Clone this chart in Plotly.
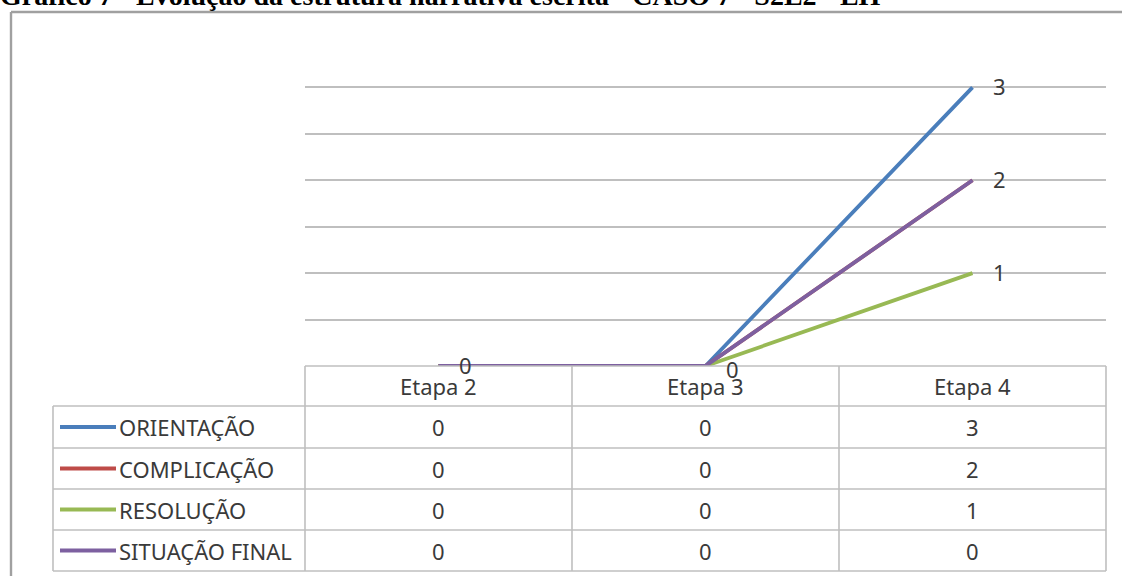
import plotly.graph_objects as go

# Categories and series values
etapas = ["Etapa 2", "Etapa 3", "Etapa 4"]
series_names = ["ORIENTAÇÃO", "COMPLICAÇÃO", "RESOLUÇÃO", "SITUAÇÃO FINAL"]
orientacao = [0, 0, 3]
complicacao = [0, 0, 2]
resolucao = [0, 0, 1]
situacao_final = [0, 0, 0]
table_values = [orientacao, complicacao, resolucao, situacao_final]

# Values traced by the plotted lines (the line reaching 2 is drawn in purple)
line_orientacao = [0, 0, 3]
line_complicacao = [0, 0, 2]
line_resolucao = [0, 0, 1]
line_situacao = [0, 0, 2]
plotted = [line_orientacao, line_complicacao, line_resolucao, line_situacao]

colors = ["#4a7ebb", "#be4b48", "#98b954", "#7d60a0"]
title_text = "Gráfico 7 - Evolução da estrutura narrativa escrita - CASO 7 - S2E2 - EH"

W, H = 1122, 576
L, R, T, B = 305, 1106, 41, 366  # plot area in pixels
GRID = "#bfbfbf"
TXT = "#3a3a3a"
FONT = "Noto Sans"
FS = 22


def px(x):
    return (x - L) / (R - L)


def py(y):
    return (B - y) / (B - T)


fig = go.Figure()
for name, vals, col in zip(series_names, plotted, colors):
    fig.add_trace(go.Scatter(x=[0, 1, 2], y=vals, mode="lines", name=name,
                             line=dict(color=col, width=3.8), showlegend=False))

annotations = []
# data labels
label_points = [(0, 0, 0), (1, 0, 4), (2, line_orientacao[2], 0),
                (2, line_situacao[2], 0), (2, line_resolucao[2], 0)]
for xi, yi, dy in label_points:
    annotations.append(dict(x=xi, y=yi, xref="x", yref="y", text=str(yi), showarrow=False,
                            xanchor="center", yanchor="middle", xshift=27, yshift=1 - dy,
                            font=dict(family=FONT, size=FS, color=TXT)))

shapes = []
line_style = dict(color=GRID, width=1.6)
# table rows
row_edges = [366, 406, 448, 489, 530, 571]
col_edges = [305, 572, 839, 1106]
table_left = 53
shapes.append(dict(type="line", xref="paper", yref="paper", x0=px(L), x1=px(R),
                   y0=py(366), y1=py(366), line=line_style))
for y in row_edges[1:]:
    shapes.append(dict(type="line", xref="paper", yref="paper", x0=px(table_left), x1=px(R),
                       y0=py(y), y1=py(y), line=line_style))
shapes.append(dict(type="line", xref="paper", yref="paper", x0=px(table_left), x1=px(table_left),
                   y0=py(406), y1=py(571), line=line_style))
for x in col_edges:
    shapes.append(dict(type="line", xref="paper", yref="paper", x0=px(x), x1=px(x),
                       y0=py(366), y1=py(571), line=line_style))

# outer frame (left and top edges)
frame = dict(color="#a0a0a0", width=2.4)
shapes.append(dict(type="line", xref="paper", yref="paper", x0=px(11), x1=px(W + 5),
                   y0=py(12), y1=py(12), line=frame))
shapes.append(dict(type="line", xref="paper", yref="paper", x0=px(11), x1=px(11),
                   y0=py(12), y1=py(H + 5), line=frame))

# header cells
for i, et in enumerate(etapas):
    cx = (col_edges[i] + col_edges[i + 1]) / 2
    annotations.append(dict(x=px(cx), y=py(386), xref="paper", yref="paper", text=et,
                            showarrow=False, xanchor="center", yanchor="middle",
                            font=dict(family=FONT, size=FS, color=TXT)))

# body rows: legend keys, names and values
for r, (name, vals, col) in enumerate(zip(series_names, table_values, colors)):
    cy = (row_edges[r + 1] + row_edges[r + 2]) / 2
    shapes.append(dict(type="line", xref="paper", yref="paper", x0=px(60), x1=px(116),
                       y0=py(cy), y1=py(cy), line=dict(color=col, width=3.8)))
    annotations.append(dict(x=px(117), y=py(cy), xref="paper", yref="paper", text=name,
                            showarrow=False, xanchor="left", yanchor="middle",
                            font=dict(family=FONT, size=FS, color=TXT)))
    for i, v in enumerate(vals):
        cx = (col_edges[i] + col_edges[i + 1]) / 2
        annotations.append(dict(x=px(cx), y=py(cy), xref="paper", yref="paper", text=str(v),
                                showarrow=False, xanchor="center", yanchor="middle",
                                font=dict(family=FONT, size=FS, color=TXT)))

# title, partially above the page edge
annotations.append(dict(x=px(-2), y=py(13), xref="paper", yref="paper", text="<b>" + title_text + "</b>",
                        showarrow=False, xanchor="left", yanchor="bottom",
                        font=dict(family="Liberation Serif", size=28, color="#000000")))

fig.update_layout(
    width=W, height=H,
    margin=dict(l=L, r=W - R, t=T, b=H - B),
    paper_bgcolor="white", plot_bgcolor="white",
    xaxis=dict(range=[-0.5, 2.5], showgrid=False, zeroline=False, showticklabels=False,
               showline=False, fixedrange=True),
    yaxis=dict(range=[0, 3.5], dtick=0.5, showgrid=True, gridcolor=GRID, gridwidth=1.6,
               zeroline=False, showticklabels=False, showline=False, fixedrange=True),
    shapes=shapes, annotations=annotations, showlegend=False,
)

fig.write_html("out.html")
